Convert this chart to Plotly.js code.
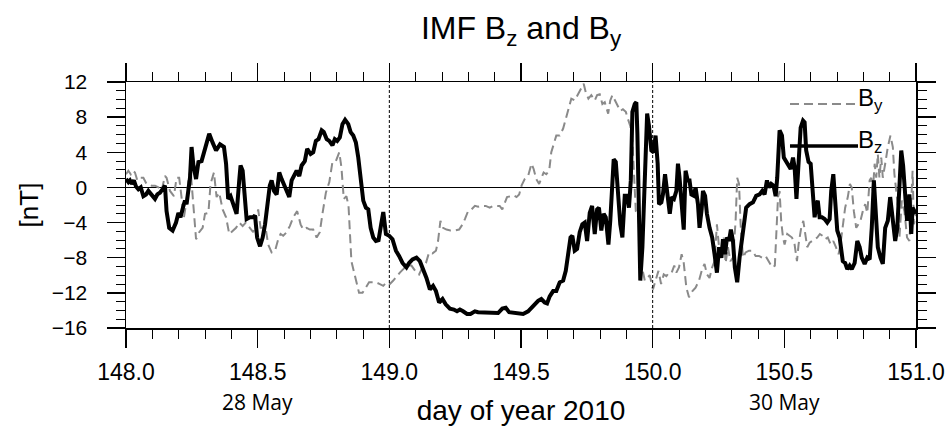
<!DOCTYPE html>
<html>
<head>
<meta charset="utf-8">
<script src="https://cdn.plot.ly/plotly-3.0.1.min.js"></script>
<style>html,body{margin:0;padding:0;background:#fff;}#chart{width:949px;height:432px;}</style>
</head>
<body>
<div id="chart"></div>
<script>
// Day of year 2010 (fractional) and IMF Bz [nT]
const bzDay = [148.000,148.009,148.015,148.022,148.030,148.038,148.047,148.056,148.066,148.076,148.085,148.097,148.110,148.119,148.129,148.139,148.148,148.154,148.164,148.177,148.190,148.199,148.207,148.218,148.224,148.230,148.237,148.243,148.249,148.256,148.266,148.275,148.287,148.300,148.316,148.329,148.342,148.357,148.372,148.380,148.388,148.397,148.410,148.420,148.430,148.435,148.443,148.452,148.458,148.471,148.483,148.490,148.498,148.509,148.519,148.528,148.536,148.546,148.553,148.562,148.572,148.582,148.591,148.603,148.612,148.620,148.629,148.641,148.648,148.658,148.667,148.679,148.688,148.701,148.711,148.721,148.731,148.743,148.751,148.762,148.772,148.784,148.793,148.802,148.812,148.822,148.832,148.844,148.853,148.863,148.873,148.882,148.891,148.901,148.911,148.920,148.929,148.939,148.949,148.959,148.969,148.977,148.987,148.9995,149.012,149.025,149.037,149.050,149.065,149.075,149.088,149.103,149.116,149.128,149.141,149.154,149.166,149.177,149.189,149.202,149.214,149.230,149.245,149.257,149.268,149.280,149.295,149.308,149.325,149.337,149.356,149.375,149.394,149.413,149.429,149.442,149.455,149.476,149.495,149.508,149.527,149.546,149.565,149.577,149.590,149.599,149.609,149.622,149.634,149.647,149.660,149.670,149.679,149.688,149.695,149.704,149.713,149.723,149.733,149.742,149.751,149.761,149.770,149.780,149.789,149.796,149.805,149.814,149.822,149.832,149.839,149.847,149.852,149.860,149.869,149.877,149.885,149.894,149.903,149.910,149.917,149.923,149.932,149.938,149.942,149.948,149.953,149.961,149.970,149.979,149.986,149.995,150.004,150.011,150.019,150.024,150.033,150.039,150.047,150.054,150.065,150.073,150.081,150.090,150.096,150.102,150.110,150.118,150.125,150.133,150.140,150.147,150.156,150.163,150.172,150.178,150.186,150.191,150.199,150.206,150.216,150.226,150.235,150.244,150.252,150.261,150.267,150.275,150.282,150.290,150.297,150.305,150.312,150.321,150.330,150.343,150.355,150.368,150.381,150.393,150.406,150.416,150.425,150.434,150.441,150.450,150.459,150.467,150.473,150.482,150.491,150.498,150.507,150.516,150.524,150.533,150.539,150.546,150.554,150.562,150.571,150.577,150.583,150.592,150.600,150.608,150.615,150.621,150.627,150.634,150.643,150.653,150.663,150.672,150.678,150.686,150.693,150.701,150.710,150.716,150.722,150.731,150.739,150.748,150.756,150.767,150.777,150.786,150.794,150.805,150.815,150.824,150.832,150.840,150.848,150.855,150.865,150.874,150.883,150.893,150.902,150.908,150.916,150.921,150.929,150.936,150.944,150.951,150.959,150.966,150.975,150.982,150.987,151.000];
const bzVal = [0.95,0.6,0.8,0.4,0.8,0.1,-0.2,0,-1,-0.8,-0.4,-0.8,-1.3,-0.8,-0.6,-0.2,0.2,-2.7,-4.6,-4.9,-4,-2.9,-3.4,-2.1,-1.5,-1.9,0,1.1,4.6,2.5,0.95,2.9,3,4.4,6.1,5.1,4.2,4.9,4.6,2.7,-1.3,-1,-2.1,-3,0.8,2.5,1.9,-1.1,-3.6,-3.4,-3.4,-3.2,-5.7,-6.7,-5.7,-4.2,-2.3,0.2,0.8,-0.4,-0.8,1.7,0.95,0.2,-0.4,-1.1,0.8,1.5,1.9,1.3,2.5,3,4.4,3.8,4,5.3,5.5,6.5,6.3,5.5,5.3,4.8,5.5,5.3,5.7,7.2,7.7,7.2,6.3,5.9,5.1,3.4,0.6,-1.5,-2.3,-2.5,-4.6,-5.7,-6.1,-6,-4.2,-2.8,-5.3,-5.5,-5.9,-7.2,-7.8,-8.6,-9.1,-8.6,-8.2,-8,-8.4,-9.3,-10.3,-11.6,-11.2,-11.8,-13.1,-12.7,-13.3,-13.8,-13.9,-14.1,-13.9,-14.1,-14.4,-14.4,-14.1,-14.2,-14.2,-14.2,-14.2,-14.3,-13.8,-13.7,-14.2,-14.3,-14.4,-14.4,-14.1,-13.5,-12.9,-12.7,-13.1,-13.2,-12.4,-11.8,-11.8,-10.8,-10.6,-9.5,-7.4,-5.7,-5.5,-7.2,-7,-5.1,-4.2,-4,-6.1,-2.9,-2.1,-5.3,-2.5,-2.3,-4.9,-3,-3.4,-6.5,-3.8,0.4,3.2,2.9,-0.4,-4.2,-5.7,-0.95,-0.95,-2.3,0.8,8.6,9.5,9.7,6.1,-4.9,-10.6,-6.8,0.8,8.4,7,4.2,4,5.9,2.7,-1.9,-1.7,-0.8,1.5,0,-3,-1.1,-1.3,-0.4,2.7,1.1,-2.7,-4.8,1.9,0.8,0.8,-0.8,-0.95,0,-1.9,-4.6,-2.5,-0.4,-0.95,-3,-4.6,-5.7,-7.6,-9.7,-6.8,-8,-5.9,-7.6,-5.7,-6.1,-4.8,-6.1,-9.1,-10.8,-8,-4.6,-2.3,-1.9,-1.7,-0.95,-0.8,-0.4,-0.8,0.8,0,0.4,0.2,-1.0,1.1,6.5,5.9,3.4,3,2.5,2.1,3.4,2.3,-1.3,3.4,6.8,7.6,7.4,4.2,2.9,2.7,-0.8,-3.4,-2.1,-1.5,-3.4,-3.4,-3.6,-4,-3.6,-0.4,1.5,-1.5,-4.9,-5.7,-7.6,-8.4,-8.6,-9.3,-8.9,-9.3,-8.6,-6.1,-6.8,-8,-8.7,-8,-8.2,-4.6,0.8,-4.2,-6.8,-8,-8.7,-4.6,-3.8,-1.1,-2.9,-4.6,-6.1,-4.6,-0.4,4.2,2.5,-1.1,-3.8,-0.8,-5.3,-2.3,-3.0];

// Day of year 2010 (fractional) and IMF By [nT]
const byDay = [148.000,148.009,148.018,148.025,148.034,148.043,148.056,148.066,148.078,148.097,148.110,148.123,148.135,148.148,148.154,148.167,148.182,148.192,148.202,148.211,148.220,148.230,148.237,148.245,148.256,148.266,148.278,148.291,148.300,148.313,148.321,148.334,148.344,148.354,148.367,148.380,148.392,148.405,148.418,148.430,148.443,148.455,148.471,148.483,148.493,148.502,148.511,148.521,148.531,148.540,148.553,148.566,148.578,148.587,148.597,148.610,148.622,148.635,148.650,148.663,148.673,148.686,148.698,148.711,148.724,148.736,148.746,148.759,148.772,148.784,148.797,148.810,148.818,148.827,148.837,148.845,148.856,148.873,148.885,148.898,148.911,148.923,148.936,148.949,148.964,148.977,148.989,149.002,149.015,149.027,149.040,149.053,149.065,149.084,149.103,149.113,149.126,149.139,149.151,149.164,149.177,149.185,149.194,149.204,149.217,149.232,149.249,149.265,149.278,149.287,149.299,149.312,149.325,149.337,149.350,149.366,149.381,149.394,149.409,149.419,149.429,149.438,149.447,149.460,149.472,149.483,149.493,149.502,149.514,149.527,149.540,149.548,149.558,149.569,149.577,149.586,149.596,149.607,149.615,149.624,149.634,149.647,149.660,149.670,149.683,149.691,149.704,149.717,149.729,149.738,149.746,149.756,149.767,149.780,149.789,149.799,149.809,149.818,149.831,149.839,149.847,149.860,149.869,149.877,149.887,149.898,149.906,149.915,149.923,149.928,149.936,149.944,149.953,149.957,149.970,149.989,150.001,150.012,150.022,150.032,150.042,150.052,150.062,150.072,150.082,150.090,150.100,150.110,150.118,150.128,150.138,150.151,150.163,150.176,150.188,150.197,150.206,150.216,150.226,150.235,150.244,150.252,150.261,150.270,150.277,150.286,150.295,150.305,150.315,150.321,150.328,150.334,150.343,150.353,150.366,150.378,150.391,150.404,150.416,150.429,150.441,150.454,150.464,150.470,150.476,150.482,150.488,150.495,150.501,150.511,150.520,150.529,150.539,150.548,150.554,150.564,150.572,150.579,150.587,150.596,150.605,150.615,150.625,150.635,150.645,150.655,150.665,150.676,150.686,150.696,150.706,150.713,150.722,150.731,150.741,150.749,150.756,150.764,150.773,150.782,150.789,150.798,150.807,150.815,150.824,150.830,150.836,150.843,150.849,150.855,150.861,150.868,150.874,150.883,150.893,150.903,150.912,150.918,150.929,150.937,150.946,150.956,150.966,150.975,150.982,150.987,150.992,151.000];
const byVal = [1.5,1.9,1.5,1.9,1.7,0.8,1.1,1.1,0.4,0.2,0.2,0,-0.4,1.3,1.1,-0.4,-1,1.1,1.1,-1.1,-3.4,-1.5,0.8,2.1,-2.3,-5.9,-5.1,-4.6,-3,-2.9,0.4,1.7,-1.1,-0.6,-2.5,-3.4,-5.3,-4.9,-4.6,-4,-4.4,-4,-4.6,-5.1,-3.8,-2.5,-4.6,-4.6,-4.8,-6.5,-7.4,-7.2,-5.9,-5.3,-5.5,-5.1,-4.4,-3.4,-2.7,-4.2,-4.8,-4.6,-4.8,-4.8,-5.7,-5.1,-3,-0.6,0.6,2.9,3,4,2.3,-1.3,-1,-2.1,-8.4,-10.5,-12,-12,-11.4,-10.8,-10.8,-10.8,-11,-11.2,-10.8,-11,-10.6,-10.1,-9.7,-9.3,-8.9,-8.9,-9.7,-9.9,-9.1,-8.6,-7.4,-7.5,-7.2,-6.1,-3.8,-4.6,-4.8,-4.9,-4.9,-4.8,-4.2,-3.6,-2.7,-2.5,-2.1,-2.2,-2.1,-2.1,-2.3,-2.1,-2.1,-2.1,-2.5,-1.7,-1.1,-1.0,-0.9,-1.1,-0.8,0.2,0.95,1.3,2.7,2.1,0.95,0.4,0.95,1.7,1.5,1.9,4,4.9,5.9,5.9,6.7,7.8,9.1,10.1,9.9,10.6,11.4,11.8,10.8,10.1,10.5,9.9,10.5,10.6,9.5,9.7,8.4,9.9,10.5,9.7,9.3,8.7,8.9,8.6,7.8,7,5.3,2.3,-2.7,-3,-5.7,-8.7,-10.6,-10,-11.6,-10.5,-9.5,-11,-9.9,-10.1,-9.7,-9.7,-8.9,-9.7,-9.1,-7.6,-8.6,-11.4,-12.5,-11.8,-11.4,-10.6,-9.3,-8.7,-9.9,-10.3,-9.1,-8.4,-4.2,-6.8,-8,-5.7,-8.6,-6.8,-8.4,-8,-3.8,1.1,0.4,-4.2,-8,-7.4,-7.2,-7.2,-7.8,-7.8,-8,-7.8,-8.4,-9.1,-8.9,-5.7,-1.1,-0.4,-3.8,-5.7,-6.5,-5.3,-5.5,-5.7,-6.5,-8.4,-6.5,-4.6,-3.8,-5.5,-6.8,-6.3,-6.1,-5.9,-5.7,-5.3,-5.5,-5.9,-5.7,-6.5,-6.1,-6.8,-7.6,-6.5,-4.2,-2.3,-1.1,0.4,0,-2.7,-4.6,-4.2,-3.8,-2.7,-1.9,-2.9,0.8,1.1,-0.4,2.7,1.1,3.8,1.1,3.4,1.1,2.7,4.6,5.9,4.6,1.5,-1.5,-5.7,-1.5,-2.7,-5.7,-6.1,-1.1,1.9,-4.2,-3];

const eventDays = [149.0, 150.0];
const dateLabels = ['28 May', '30 May'];
const dateLabelDays = [148.5, 150.5];
const xTickVals = [148.0, 148.5, 149.0, 149.5, 150.0, 150.5, 151.0];
const yTickVals = [-16, -12, -8, -4, 0, 4, 8, 12];

const FONT = 'Liberation Sans, Arial, Helvetica, sans-serif';
const DATEFONT = 'Open Sans, Liberation Sans, sans-serif';

const traces = [
  {x: byDay, y: byVal, mode: 'lines', name: 'By',
   line: {color: '#8a8a8a', width: 2, dash: '9px,5px'}, hoverinfo: 'skip'},
  {x: bzDay, y: bzVal, mode: 'lines', name: 'Bz',
   line: {color: '#000000', width: 4}, hoverinfo: 'skip'}
];

const shapes = eventDays.map(d => ({
  type: 'line', xref: 'x', yref: 'paper', x0: d, x1: d, y0: 0, y1: 1,
  line: {color: '#000', width: 1, dash: '3px,2px'}
}));
// legend samples
shapes.push({type: 'line', xref: 'paper', yref: 'paper', x0: 0.8405, x1: 0.9266, y0: 0.9106, y1: 0.9106,
  line: {color: '#8a8a8a', width: 2, dash: '9px,5px'}});
shapes.push({type: 'line', xref: 'paper', yref: 'paper', x0: 0.8405, x1: 0.9266, y0: 0.740, y1: 0.740,
  line: {color: '#000', width: 3.5}});

const annotations = dateLabels.map((t, i) => ({
  text: t, x: dateLabelDays[i], xref: 'x', y: -0.3, yref: 'paper',
  showarrow: false, xanchor: 'center', yanchor: 'middle',
  font: {family: DATEFONT, size: 21, color: '#000'}
}));
annotations.push({text: 'B<sub>y</sub>', x: 0.9266, xref: 'paper', y: 0.93, yref: 'paper',
  showarrow: false, xanchor: 'left', yanchor: 'middle', xshift: -2, font: {family: FONT, size: 24, color: '#000'}});
annotations.push({text: 'B<sub>z</sub>', x: 0.9266, xref: 'paper', y: 0.76, yref: 'paper',
  showarrow: false, xanchor: 'left', yanchor: 'middle', xshift: -2, font: {family: FONT, size: 24, color: '#000'}});

const layout = {
  width: 949, height: 432,
  margin: {l: 126, r: 33, t: 82, b: 104},
  paper_bgcolor: '#fff', plot_bgcolor: '#fff',
  showlegend: false,
  title: {text: 'IMF B<sub>z</sub> and B<sub>y</sub>', x: 0.549, xanchor: 'center', y: 0.935, yanchor: 'middle',
          font: {family: FONT, size: 32, color: '#000'}},
  xaxis: {
    range: [148, 151], tickvals: xTickVals, tickformat: '.1f',
    ticks: 'outside', ticklen: 18, tickwidth: 1.5, tickcolor: '#000',
    minor: {dtick: 0.1, ticks: 'outside', ticklen: 9, tickwidth: 1, tickcolor: '#000'},
    showline: true, linecolor: '#000', linewidth: 1.5, mirror: 'allticks',
    showgrid: false, zeroline: false,
    tickfont: {family: FONT, size: 23, color: '#000'}, ticklabelstandoff: 5,
    title: {text: 'day of year 2010', font: {family: FONT, size: 28, color: '#000'}, standoff: 16}
  },
  yaxis: {
    range: [-16, 12], tickvals: yTickVals,
    ticks: 'outside', ticklen: 18, tickwidth: 1.5, tickcolor: '#000',
    minor: {dtick: 1, ticks: 'outside', ticklen: 9, tickwidth: 1, tickcolor: '#000'},
    showline: true, linecolor: '#000', linewidth: 1.5, mirror: 'allticks',
    showgrid: false, zeroline: true, zerolinecolor: '#000', zerolinewidth: 1,
    tickfont: {family: FONT, size: 21, color: '#000'}, ticklabelstandoff: 15,
    title: {text: '[nT]', font: {family: FONT, size: 26, color: '#000'}, standoff: 5}
  },
  shapes: shapes,
  annotations: annotations
};

Plotly.newPlot('chart', traces, layout, {staticPlot: true, displayModeBar: false});
</script>
</body>
</html>
